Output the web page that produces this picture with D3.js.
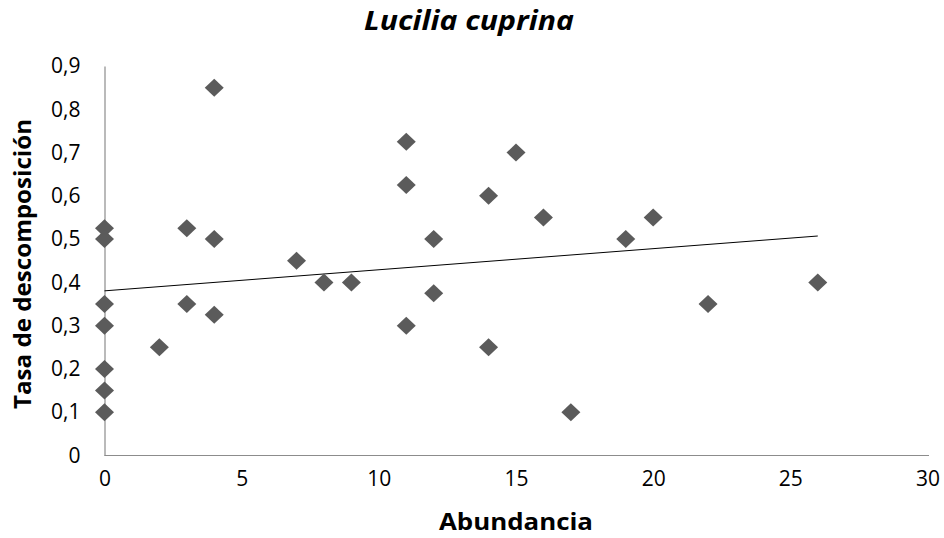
<!DOCTYPE html>
<html>
<head>
<meta charset="utf-8">
<script src="https://cdn.jsdelivr.net/npm/d3@7"></script>
<style>
  body { margin: 0; background: #fff; }
  svg { font-family: "Open Sans", sans-serif; }
</style>
</head>
<body>
<svg id="chart" width="944" height="538"></svg>
<script>
// Abundancia vs tasa de descomposición
const abundancia = [0, 0, 0, 0, 0, 0, 0, 2, 3, 3, 4, 4, 4, 7, 8, 9, 11, 11, 11, 12, 12, 14, 14, 15, 16, 17, 19, 20, 22, 26];
const tasa = [0.525, 0.5, 0.35, 0.3, 0.2, 0.15, 0.1, 0.25, 0.525, 0.35, 0.85, 0.5, 0.325, 0.45, 0.4, 0.4, 0.725, 0.625, 0.3, 0.5, 0.375, 0.6, 0.25, 0.7, 0.55, 0.1, 0.5, 0.55, 0.35, 0.4];
const xTicks = [0, 5, 10, 15, 20, 25, 30];
const yTicks = [0, 0.1, 0.2, 0.3, 0.4, 0.5, 0.6, 0.7, 0.8, 0.9];

const svg = d3.select('#chart');

const x = d3.scaleLinear().domain([0, 30]).range([104.5, 927.5]);
const y = d3.scaleLinear().domain([0, 0.9]).range([455.5, 66]);

const fmt = d => d === 0 ? '0' : d3.format('.1f')(d).replace('.', ',');

// axes (no tick marks, gray line)
const xAxis = svg.append('g')
    .attr('transform', `translate(0,${y(0)})`)
    .call(d3.axisBottom(x).tickValues(xTicks).tickSize(0).tickPadding(16).tickFormat(d3.format('d')));
const yAxis = svg.append('g')
    .attr('transform', `translate(${x(0)},0)`)
    .call(d3.axisLeft(y).tickValues(yTicks).tickSize(0).tickPadding(24).tickFormat(fmt));

[xAxis, yAxis].forEach(g => {
    g.select('.domain').attr('stroke', '#8c8c8c').attr('stroke-width', 1.2);
    g.selectAll('text').attr('font-size', 21).attr('fill', '#000')
        .attr('font-family', '"Open Sans", sans-serif');
});
xAxis.select('.domain').attr('d', `M${x(0)},0H${x(30) + 1.5}`);

// trend line (least squares)
const n = abundancia.length;
const mx = d3.mean(abundancia), my = d3.mean(tasa);
let sxy = 0, sxx = 0;
for (let i = 0; i < n; i++) {
    sxy += (abundancia[i] - mx) * (tasa[i] - my);
    sxx += (abundancia[i] - mx) ** 2;
}
const slope = sxy / sxx, icpt = my - slope * mx;
const xMax = d3.max(abundancia);
svg.append('line')
    .attr('x1', x(0)).attr('y1', y(icpt))
    .attr('x2', x(xMax)).attr('y2', y(icpt + slope * xMax))
    .attr('stroke', '#000').attr('stroke-width', 1);

// diamonds
svg.selectAll('path.pt')
    .data(abundancia.map((a, i) => [a, tasa[i]]))
    .join('path')
    .attr('class', 'pt')
    .attr('d', d => `M${x(d[0])},${y(d[1]) - 9}L${x(d[0]) + 9.5},${y(d[1])}L${x(d[0])},${y(d[1]) + 9}L${x(d[0]) - 9.5},${y(d[1])}Z`)
    .attr('fill', '#5b5b5b');

// titles
svg.append('text')
    .attr('x', 469).attr('y', 30)
    .attr('text-anchor', 'middle')
    .attr('font-size', 26).attr('font-weight', 'bold').attr('font-style', 'italic')
    .attr('textLength', 210).attr('lengthAdjust', 'spacingAndGlyphs')
    .text('Lucilia cuprina');

svg.append('text')
    .attr('x', 516).attr('y', 530)
    .attr('text-anchor', 'middle')
    .attr('font-size', 23).attr('font-weight', 'bold')
    .attr('textLength', 154).attr('lengthAdjust', 'spacingAndGlyphs')
    .text('Abundancia');

svg.append('text')
    .attr('transform', 'translate(31,264) rotate(-90)')
    .attr('text-anchor', 'middle')
    .attr('font-size', 24).attr('font-weight', 'bold')
    .attr('textLength', 290).attr('lengthAdjust', 'spacingAndGlyphs')
    .text('Tasa de descomposición');
</script>
</body>
</html>
